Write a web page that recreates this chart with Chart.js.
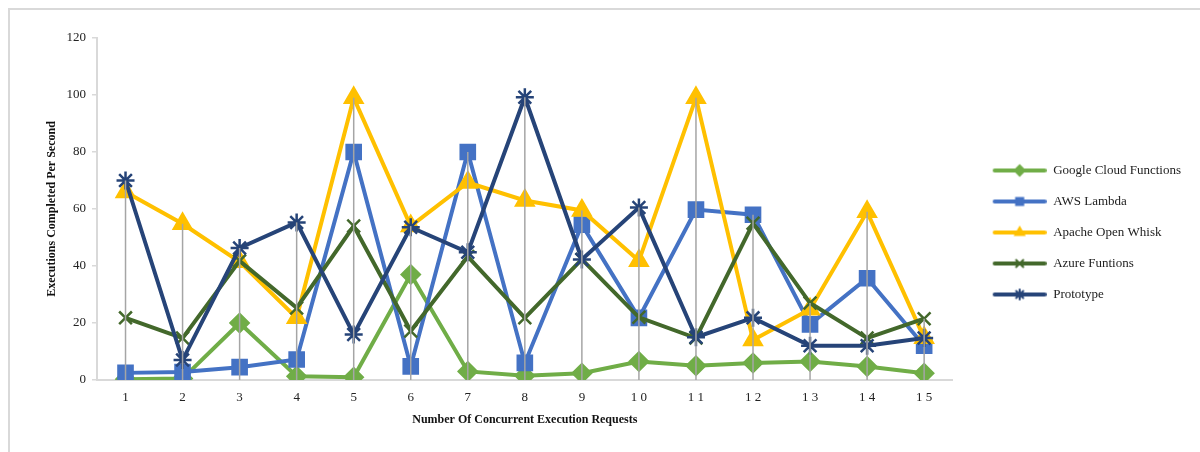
<!DOCTYPE html>
<html>
<head>
<meta charset="utf-8">
<script src="https://cdn.jsdelivr.net/npm/chart.js@4.4.1/dist/chart.umd.min.js"></script>
<style>
    html, body { margin: 0; padding: 0; background: #fff; }
    #wrap { position: relative; width: 1200px; height: 452px; overflow: hidden; }
    #frame { position: absolute; left: 8px; top: 8px; width: 1300px; height: 600px;
             border-left: 2px solid #d9d9d9; border-top: 2px solid #d9d9d9; }
    canvas { position: absolute; left: 0; top: 0; }
</style>
</head>
<body>
<div id="wrap">
    <div id="frame"></div>
    <canvas id="chart" width="1200" height="452"></canvas>
</div>
<script>
    var categories = ['1', '2', '3', '4', '5', '6', '7', '8', '9', '10', '11', '12', '13', '14', '15'];
    var yTicks = [0, 20, 40, 60, 80, 100, 120];

    var googleCloud = [0.3, 0.5, 20, 1.3, 1, 37, 3, 1.5, 2.4, 6.5, 5, 6, 6.5, 4.7, 2.4];
    var awsLambda = [2.5, 2.8, 4.5, 7.2, 80, 4.8, 80, 6, 54.5, 21.8, 59.8, 58, 19.5, 35.7, 12];
    var apacheWhisk = [66, 54.8, 41.5, 21.8, 99, 54, 69.3, 63, 59.5, 41.8, 99, 14, 24.8, 59, 14.8];
    var azure = [21.8, 14.7, 41.8, 25.3, 54, 17.2, 43.3, 21.8, 42.3, 22, 14.7, 55, 27, 14.7, 21.5];
    var prototype = [70, 7, 46.3, 55.3, 16, 53.6, 44.8, 99.2, 42.3, 60.5, 15, 21.8, 12, 12, 14.7];

    var seriesNames = ['Google Cloud Functions', 'AWS Lambda', 'Apache Open Whisk', 'Azure Funtions', 'Prototype'];
    var seriesValues = [googleCloud, awsLambda, apacheWhisk, azure, prototype];
    var seriesColors = ['#70ad47', '#4472c4', '#ffc000', '#43682b', '#264478'];
    var seriesMarkers = ['rectRot', 'rect', 'triangle', 'crossRot', 'star'];
    var markerSizes = [9, 10, 10, 9, 9];

    Chart.defaults.font.family = "'Liberation Serif', 'Times New Roman', serif";
    Chart.defaults.color = '#222';

    // small line + marker picture for each legend entry
    function legendImage(color, style, radius) {
        var c = document.createElement('canvas');
        c.width = 76;
        c.height = 16;
        var ctx = c.getContext('2d');
        ctx.strokeStyle = color;
        ctx.fillStyle = color;
        ctx.lineWidth = 4;
        ctx.lineCap = 'round';
        ctx.beginPath();
        ctx.moveTo(24, 8);
        ctx.lineTo(74, 8);
        ctx.stroke();
        ctx.lineWidth = 2;
        Chart.helpers.drawPoint(ctx, {pointStyle: style, radius: radius, rotation: 0, borderWidth: 2}, 49, 8);
        return c;
    }

    var legendImages = seriesColors.map(function (col, i) {
        return legendImage(col, seriesMarkers[i], 5);
    });

    var datasets = seriesNames.map(function (name, i) {
        return {
            label: name,
            data: seriesValues[i],
            borderColor: seriesColors[i],
            backgroundColor: seriesColors[i],
            borderWidth: 4,
            pointStyle: seriesMarkers[i],
            pointRadius: markerSizes[i],
            pointBorderWidth: 2.5,
            pointBackgroundColor: seriesColors[i],
            pointBorderColor: seriesColors[i],
            tension: 0,
            order: seriesNames.length - i
        };
    });

    // grey drop lines from the highest point of each category to the axis
    var dropLines = {
        id: 'dropLines',
        afterDatasetsDraw: function (chart) {
            var xs = chart.scales.x, ys = chart.scales.y, ctx = chart.ctx;
            ctx.save();
            ctx.strokeStyle = '#a5a5a5';
            ctx.lineWidth = 1.5;
            for (var i = 0; i < categories.length; i++) {
                var top = Math.max.apply(null, seriesValues.map(function (s) { return s[i]; }));
                var px = xs.getPixelForValue(i);
                ctx.beginPath();
                ctx.moveTo(px, ys.getPixelForValue(top));
                ctx.lineTo(px, ys.getPixelForValue(0));
                ctx.stroke();
            }
            ctx.restore();
        }
    };

    var ctx = document.getElementById('chart').getContext('2d');
    window.myLine = new Chart(ctx, {
        type: 'line',
        data: {labels: categories, datasets: datasets},
        plugins: [dropLines],
        options: {
            responsive: false,
            animation: false,
            events: [],
            layout: {padding: {left: 45, top: 38, bottom: 25, right: 9}},
            plugins: {
                tooltip: {enabled: false},
                legend: {
                    position: 'right',
                    labels: {
                        usePointStyle: true,
                        pointStyleWidth: 76,
                        padding: 18,
                        font: {size: 13},
                        color: '#222',
                        sort: function (a, b) { return a.datasetIndex - b.datasetIndex; },
                        generateLabels: function (chart) {
                            var items = Chart.defaults.plugins.legend.labels.generateLabels(chart);
                            items.forEach(function (it) {
                                it.pointStyle = legendImages[it.datasetIndex];
                            });
                            return items;
                        }
                    }
                }
            },
            scales: {
                x: {
                    type: 'category',
                    offset: true,
                    grid: {display: false},
                    border: {color: '#d9d9d9', width: 2},
                    ticks: {
                        padding: 2,
                        font: {size: 13},
                        color: '#222',
                        maxRotation: 0,
                        callback: function (v) {
                            return this.getLabelForValue(v).split('').join(' ');
                        }
                    },
                    title: {
                        display: true,
                        text: 'Number Of Concurrent Execution Requests',
                        font: {size: 12, weight: 'bold'},
                        color: '#111',
                        padding: 0
                    },
                    afterFit: function (s) { s.height = 47; }
                },
                y: {
                    min: 0,
                    max: 120,
                    afterBuildTicks: function (s) {
                        s.ticks = yTicks.map(function (v) { return {value: v}; });
                    },
                    grid: {drawOnChartArea: false, drawTicks: true, tickLength: 5, color: '#d9d9d9', lineWidth: 1.5},
                    border: {color: '#d9d9d9', width: 2},
                    ticks: {padding: 6, font: {size: 13}, color: '#222'},
                    title: {
                        display: true,
                        text: 'Executions Completed Per Second',
                        font: {size: 12, weight: 'bold'},
                        color: '#111',
                        padding: 0
                    },
                    afterFit: function (s) { s.width = 52; }
                }
            }
        }
    });
</script>
</body>
</html>
